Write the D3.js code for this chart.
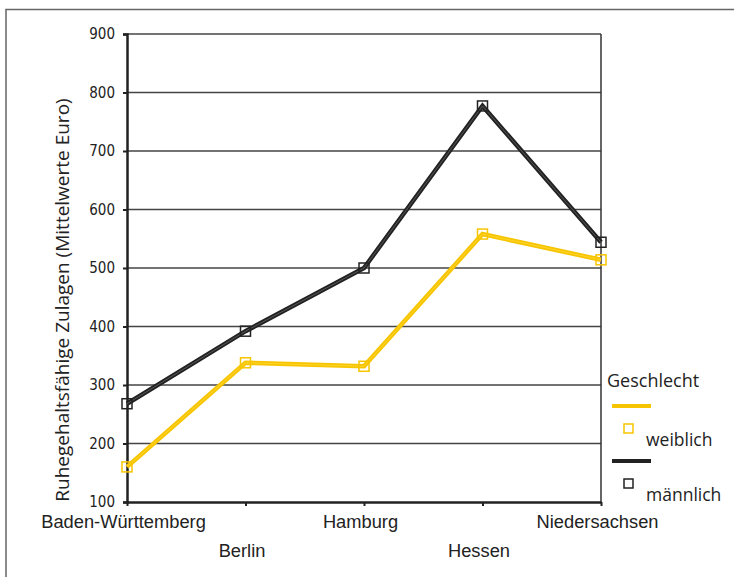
<!DOCTYPE html>
<html>
<head>
<meta charset="utf-8">
<script src="https://cdn.jsdelivr.net/npm/d3@7"></script>
<style>
  html, body { margin: 0; padding: 0; background: #fff; }
  svg { display: block; font-family: "Open Sans", "Noto Sans", sans-serif; }
</style>
</head>
<body>
<svg id="chart" width="734" height="577"></svg>
<script>
// Bundesländer on the x axis
const categories = ["Baden-Württemberg", "Berlin", "Hamburg", "Hessen", "Niedersachsen"];
// Mean pensionable allowances (Euro) by gender
const weiblich = [160, 338, 332, 558, 514];
const maennlich = [268, 392, 500, 777, 544];
const yTicks = [100, 200, 300, 400, 500, 600, 700, 800, 900];
const seriesNames = ["weiblich", "männlich"];
const legendTitle = "Geschlecht";
const yTitle = "Ruhegehaltsfähige Zulagen (Mittelwerte Euro)";

const svg = d3.select("#chart");
const plotLeft = 127, plotRight = 601, plotTop = 34, plotBottom = 502;

const x = d3.scalePoint().domain(categories).range([plotLeft, plotRight]).padding(0);
const y = d3.scaleLinear().domain([100, 900]).range([plotBottom, plotTop]);

// outer frame (top and left edges)
svg.append("path")
  .attr("d", "M6,577 V9.5 H734")
  .attr("fill", "none").attr("stroke", "#666").attr("stroke-width", 1.5);

// horizontal grid lines
svg.append("g").selectAll("line").data(yTicks.slice(1)).join("line")
  .attr("x1", plotLeft).attr("x2", plotRight)
  .attr("y1", d => y(d)).attr("y2", d => y(d))
  .attr("stroke", "#444").attr("stroke-width", 1.5);

// right plot border
svg.append("line").attr("x1", plotRight).attr("x2", plotRight).attr("y1", plotTop).attr("y2", plotBottom)
  .attr("stroke", "#333").attr("stroke-width", 1.5);

// y axis
const yAxis = svg.append("g").attr("transform", `translate(${plotLeft},0)`)
  .call(d3.axisLeft(y).tickValues(yTicks).tickSize(4).tickPadding(8).tickFormat(d3.format("d")));
yAxis.select(".domain").attr("stroke", "#222").attr("stroke-width", 2.5);
yAxis.selectAll(".tick line").attr("stroke", "#222").attr("stroke-width", 2);
yAxis.selectAll(".tick text").attr("fill", "#222").attr("font-size", 15)
  .attr("font-family", "'DejaVu Sans Condensed', 'DejaVu Sans', sans-serif");

// x axis, labels staggered over two rows
const xAxis = svg.append("g").attr("transform", `translate(0,${plotBottom})`)
  .call(d3.axisBottom(x).tickSize(4).tickPadding(9).tickSizeOuter(0));
xAxis.select(".domain").attr("stroke", "#222").attr("stroke-width", 2.5);
xAxis.selectAll(".tick line").attr("stroke", "#222").attr("stroke-width", 2);
xAxis.selectAll(".tick text").attr("fill", "#222").attr("font-size", 18.3)
  .attr("dx", -4)
  .attr("dy", (d, i) => i % 2 === 0 ? "0.71em" : "2.3em");

// y axis title
svg.append("text")
  .attr("transform", `translate(69,${(plotTop + plotBottom) / 2 + 32}) rotate(-90)`)
  .attr("text-anchor", "middle").attr("font-size", 19).attr("fill", "#222")
  .text(yTitle);

const line = d3.line().x((d, i) => x(categories[i])).y(d => y(d));

function drawSeries(values, color, inner) {
  const g = svg.append("g");
  g.append("path").datum(values).attr("d", line)
    .attr("fill", "none").attr("stroke", color).attr("stroke-width", 4.5)
    .attr("stroke-linejoin", "miter");
  if (inner) {
    g.append("path").datum(values).attr("d", line)
      .attr("fill", "none").attr("stroke", inner).attr("stroke-width", 0.8);
  }
  g.selectAll("rect").data(values).join("rect")
    .attr("x", (d, i) => x(categories[i]) - 5).attr("y", d => y(d) - 5)
    .attr("width", 10).attr("height", 10)
    .attr("fill", "none").attr("stroke", color).attr("stroke-width", 1.5);
}

const colors = ["#f7c500", "#222"];
drawSeries(weiblich, colors[0], "#ffd83a");
drawSeries(maennlich, colors[1], "#666");

// legend
const lg = svg.append("g");
lg.append("text").attr("x", 607).attr("y", 387).attr("font-size", 18).attr("fill", "#222").text(legendTitle);
seriesNames.forEach((name, i) => {
  const oy = i * 55;
  lg.append("line").attr("x1", 612).attr("x2", 651).attr("y1", 406 + oy).attr("y2", 406 + oy)
    .attr("stroke", colors[i]).attr("stroke-width", 4);
  lg.append("rect").attr("x", 624).attr("y", 424 + oy).attr("width", 9).attr("height", 9)
    .attr("fill", "none").attr("stroke", colors[i]).attr("stroke-width", 1.5);
  lg.append("text").attr("x", 646).attr("y", 446 + oy).attr("font-size", 17.5).attr("fill", "#222").text(name);
});
</script>
</body>
</html>
